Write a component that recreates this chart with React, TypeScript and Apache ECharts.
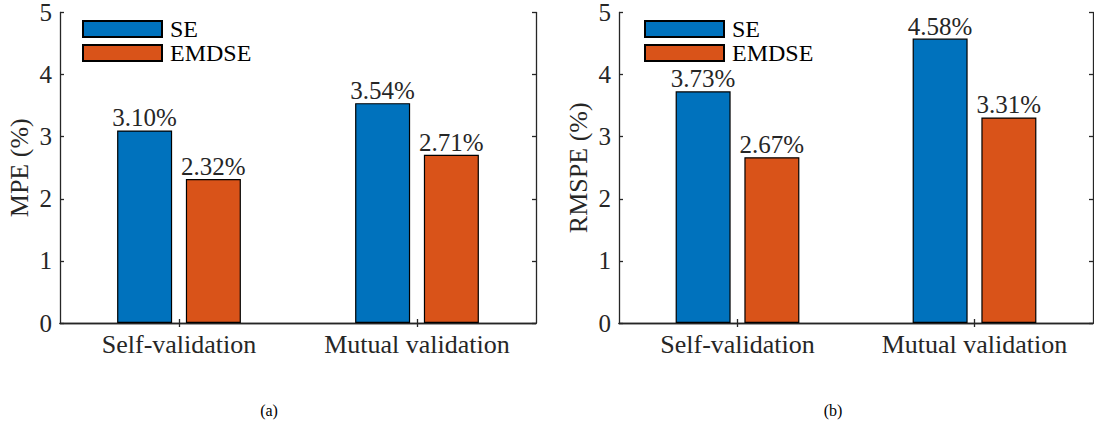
import React, { useEffect, useRef } from "react";
import * as echarts from "echarts";

const categories = ["Self-validation", "Mutual validation"];
const mpeSE = [3.1, 3.54];
const mpeEMDSE = [2.32, 2.71];
const rmspeSE = [3.73, 4.58];
const rmspeEMDSE = [2.67, 3.31];
const yTicksMin = 0;
const yTicksMax = 5;
const yTicksStep = 1;
const panelNames = ["MPE (%)", "RMSPE (%)"];
const captions = ["(a)", "(b)"];

const FONT = "Liberation Serif";
const AX = "#262626";
const BLUE = "#0072BD";
const ORANGE = "#D95319";

export default function App() {
  const ref = useRef<HTMLDivElement>(null);
  useEffect(() => {
    if (!ref.current) return;
    const chart = echarts.init(ref.current, undefined, { renderer: "svg" });
    const grids = [
      { left: 60, top: 8, width: 476, height: 315 },
      { left: 619, top: 8, width: 474, height: 315 },
    ];
    const lineStyle = { color: AX, width: 1.3 };
    const xAxis: any[] = [];
    const yAxis: any[] = [];
    grids.forEach((_, gi) => {
      xAxis.push({
        gridIndex: gi,
        type: "category",
        data: categories,
        position: "bottom",
        axisLine: { show: true, lineStyle },
        axisTick: { show: true, inside: true, alignWithLabel: true, length: 4, lineStyle },
        axisLabel: { show: true, interval: 0, fontFamily: FONT, fontSize: 26, color: AX, margin: 8 },
        splitLine: { show: false },
      });
      xAxis.push({
        gridIndex: gi,
        type: "category",
        data: categories,
        position: "top",
        axisLine: { show: true, lineStyle },
        axisTick: { show: true, inside: true, alignWithLabel: true, length: 4, lineStyle },
        axisLabel: { show: false },
        splitLine: { show: false },
      });
      yAxis.push({
        gridIndex: gi,
        type: "value",
        min: yTicksMin,
        max: yTicksMax,
        interval: yTicksStep,
        position: "left",
        name: panelNames[gi],
        nameLocation: "middle",
        nameGap: 28,
        nameTextStyle: { fontFamily: FONT, fontSize: 26, color: AX },
        axisLine: { show: true, lineStyle },
        axisTick: { show: true, inside: true, length: 4, lineStyle },
        axisLabel: { show: true, fontFamily: FONT, fontSize: 25, color: AX, margin: 8 },
        splitLine: { show: false },
      });
      yAxis.push({
        gridIndex: gi,
        type: "value",
        min: yTicksMin,
        max: yTicksMax,
        interval: yTicksStep,
        position: "right",
        axisLine: { show: true, lineStyle },
        axisTick: { show: true, inside: true, length: 4, lineStyle },
        axisLabel: { show: false },
        splitLine: { show: false },
      });
    });

    const mkSeries = (name: string, data: number[], color: string, gi: number) => ({
      type: "bar",
      name,
      data,
      xAxisIndex: gi * 2,
      yAxisIndex: gi * 2,
      barWidth: 55,
      barGap: "25%",
      itemStyle: { color, borderColor: "#000", borderWidth: 1.2 },
      label: {
        show: true,
        position: "top",
        distance: 0,
        fontFamily: FONT,
        fontSize: 25,
        color: AX,
        formatter: (p: any) => p.value.toFixed(2) + "%",
      },
    });

    const mkLegend = (left: number) => ({
      orient: "vertical",
      left,
      top: 12,
      icon: "rect",
      itemWidth: 79,
      itemHeight: 16,
      itemGap: 0,
      data: ["SE", "EMDSE"],
      textStyle: { fontFamily: FONT, fontSize: 24, color: "#000", lineHeight: 24, padding: [0, 0, 0, 3] },
    });

    chart.setOption({
      animation: false,
      backgroundColor: "#fff",
      grid: grids,
      xAxis,
      yAxis,
      legend: [mkLegend(77), mkLegend(639)],
      series: [
        mkSeries("SE", mpeSE, BLUE, 0),
        mkSeries("EMDSE", mpeEMDSE, ORANGE, 0),
        mkSeries("SE", rmspeSE, BLUE, 1),
        mkSeries("EMDSE", rmspeEMDSE, ORANGE, 1),
      ],
      graphic: [
        { type: "text", x: 269, y: 410, style: { text: captions[0], fontFamily: FONT, fontSize: 16, fill: "#000", align: "center", verticalAlign: "middle" } },
        { type: "text", x: 833, y: 410, style: { text: captions[1], fontFamily: FONT, fontSize: 16, fill: "#000", align: "center", verticalAlign: "middle" } },
      ],
    });
    return () => chart.dispose();
  }, []);
  return <div ref={ref} style={{ position: "fixed", left: 0, top: 0, width: 1094, height: 426 }} />;
}
